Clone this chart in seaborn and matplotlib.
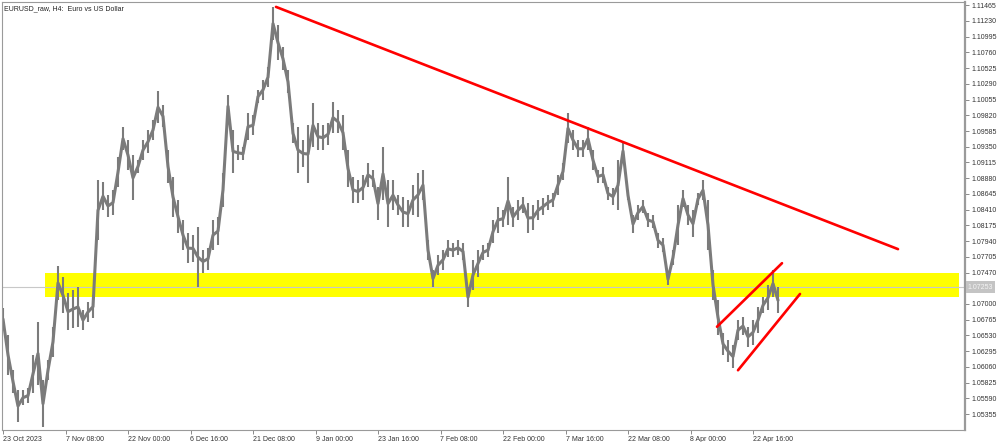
import numpy as np
import pandas as pd
import matplotlib
matplotlib.use("Agg")
import matplotlib.pyplot as plt
import seaborn as sns

# === Data (EURUSD H4, one column every 5 bars) ===
bar_step = 5
highs = [
    1.0694, 1.0654, 1.0601, 1.0571, 1.0571, 1.0574, 1.0624, 1.0673, 1.0586, 1.0616,
    1.0666, 1.0757, 1.0740, 1.0716, 1.0721, 1.0725, 1.0691, 1.0703, 1.0713, 1.0885,
    1.0882, 1.0863, 1.0870, 1.0919, 1.0964, 1.0945, 1.0922, 1.0915, 1.0945, 1.0960,
    1.0975, 1.1018, 1.0997, 1.0930, 1.0890, 1.0855, 1.0825, 1.0806, 1.0803, 1.0815,
    1.0781, 1.0784, 1.0825, 1.0830, 1.0896, 1.1012, 1.0960, 1.0937, 1.0934, 1.0985,
    1.0982, 1.1020, 1.1035, 1.1054, 1.1144, 1.1117, 1.1084, 1.1049, 1.0970, 1.0964,
    1.0945, 1.0967, 1.1000, 1.0970, 1.0967, 1.0970, 1.1002, 1.0990, 1.0982, 1.0930,
    1.0890, 1.0885, 1.0893, 1.0911, 1.0900, 1.0875, 1.0934, 1.0885, 1.0885, 1.0863,
    1.0860, 1.0855, 1.0878, 1.0896, 1.0900, 1.0795, 1.0751, 1.0773, 1.0781, 1.0795,
    1.0791, 1.0795, 1.0791, 1.0725, 1.0766, 1.0781, 1.0788, 1.0791, 1.0825, 1.0845,
    1.0840, 1.0890, 1.0845, 1.0855, 1.0860, 1.0851, 1.0848, 1.0855, 1.0858, 1.0863,
    1.0866, 1.0893, 1.0911, 1.0985, 1.0960, 1.0945, 1.0945, 1.0964, 1.0930, 1.0900,
    1.0905, 1.0875, 1.0873, 1.0915, 1.0942, 1.0870, 1.0833, 1.0848, 1.0855, 1.0836,
    1.0833, 1.0806, 1.0798, 1.0746, 1.0781, 1.0848, 1.0870, 1.0848, 1.0840, 1.0866,
    1.0885, 1.0855, 1.0751, 1.0706, 1.0657, 1.0646, 1.0639, 1.0676, 1.0680, 1.0666,
    1.0676, 1.0695, 1.0710, 1.0728, 1.0751, 1.0725,
]
lows = [
    1.0661, 1.0594, 1.0567, 1.0524, 1.0549, 1.0552, 1.0567, 1.0579, 1.0516, 1.0586,
    1.0621, 1.0706, 1.0686, 1.0661, 1.0664, 1.0666, 1.0661, 1.0673, 1.0679, 1.0795,
    1.0840, 1.0830, 1.0833, 1.0875, 1.0930, 1.0900, 1.0855, 1.0896, 1.0915, 1.0925,
    1.0945, 1.0970, 1.0964, 1.0881, 1.0830, 1.0806, 1.0781, 1.0761, 1.0763, 1.0725,
    1.0746, 1.0751, 1.0781, 1.0788, 1.0845, 1.0979, 1.0896, 1.0915, 1.0915, 1.0945,
    1.0952, 1.1000, 1.1005, 1.1024, 1.1094, 1.1064, 1.1049, 1.1015, 1.0940, 1.0896,
    1.0905, 1.0881, 1.0934, 1.0930, 1.0930, 1.0937, 1.0955, 1.0955, 1.0930, 1.0875,
    1.0851, 1.0851, 1.0855, 1.0875, 1.0875, 1.0825, 1.0855, 1.0815, 1.0840, 1.0833,
    1.0815, 1.0815, 1.0833, 1.0830, 1.0855, 1.0766, 1.0725, 1.0743, 1.0751, 1.0770,
    1.0770, 1.0773, 1.0766, 1.0695, 1.0721, 1.0740, 1.0766, 1.0770, 1.0791, 1.0806,
    1.0815, 1.0818, 1.0815, 1.0825, 1.0836, 1.0806, 1.0810, 1.0825, 1.0833, 1.0840,
    1.0845, 1.0863, 1.0885, 1.0940, 1.0930, 1.0919, 1.0919, 1.0930, 1.0900, 1.0881,
    1.0881, 1.0855, 1.0848, 1.0840, 1.0915, 1.0855, 1.0806, 1.0825, 1.0836, 1.0815,
    1.0813, 1.0784, 1.0778, 1.0728, 1.0758, 1.0788, 1.0845, 1.0818, 1.0800, 1.0848,
    1.0855, 1.0781, 1.0706, 1.0654, 1.0624, 1.0613, 1.0604, 1.0646, 1.0654, 1.0636,
    1.0639, 1.0657, 1.0686, 1.0691, 1.0710, 1.0686,
]

date_labels = ["23 Oct 2023", "7 Nov 08:00", "22 Nov 00:00", "6 Dec 16:00",
               "21 Dec 08:00", "9 Jan 00:00", "23 Jan 16:00", "7 Feb 08:00",
               "22 Feb 00:00", "7 Mar 16:00", "22 Mar 08:00", "8 Apr 00:00",
               "22 Apr 16:00"]
bars_per_label = 62.5

price_top = 1.11465
price_step = 0.00235
n_price_ticks = 27

zone_low, zone_high = 1.0710, 1.0746
zone_start, zone_end = 42, 956
last_price = 1.07253

trend_bars = [273, 895]
trend_prices = [1.1144, 1.0782]
chan_up_bars = [714, 779]
chan_up_prices = [1.0666, 1.0761]
chan_lo_bars = [735, 797]
chan_lo_prices = [1.0601, 1.0715]

df = pd.DataFrame({"high": highs, "low": lows})
df["bar"] = np.arange(len(df)) * bar_step
df["mid"] = (df["high"] + df["low"]) / 2

# === Plot ===
sns.set_theme(style="white")
plt.rcParams["font.family"] = ["Liberation Sans", "DejaVu Sans"]

fig = plt.figure(figsize=(10, 4.42), dpi=100)
ax = fig.add_axes([0.002, 0.027, 0.963, 0.968])
y0, y1 = 1.05116, 1.1151

# support zone + current price line
ax.fill_between([zone_start, zone_end], zone_low, zone_high, color="#ffff00", lw=0, zorder=1)
ax.axhline(last_price, color="#c8c8c8", lw=0.8, zorder=1.5)

# price bars
ax.vlines(df["bar"], df["low"], df["high"], color="#7b7b7b", lw=1.5, zorder=2)
sns.lineplot(data=df, x="bar", y="mid", ax=ax, color="#7b7b7b", lw=2.2, zorder=2)

# trend lines
for bx, py in [(trend_bars, trend_prices), (chan_up_bars, chan_up_prices),
               (chan_lo_bars, chan_lo_prices)]:
    sns.lineplot(x=bx, y=py, ax=ax, color="#ff0000", lw=1.9, zorder=3)

ax.set_xlim(-1, 962)
ax.set_ylim(y0, y1)

# axes styling
for side in ["left", "top", "bottom", "right"]:
    ax.spines[side].set_color("#9a9a9a")
    ax.spines[side].set_linewidth(0.8)
ax.spines["right"].set_linewidth(1.6)

yt = price_top - np.arange(n_price_ticks) * price_step
ylabels = [f"{v:.5f}" for v in yt]
ylabels[18] = ""  # 1.07235 sits under the price label
ax.yaxis.tick_right()
ax.set_yticks(yt)
ax.set_yticklabels(ylabels)
xt = np.arange(len(date_labels)) * bars_per_label
ax.set_xticks(xt)
ax.set_xticklabels(date_labels, ha="left")
ax.tick_params(axis="both", which="both", length=3, width=0.6, color="#777777",
               labelsize=5, labelcolor="#333333", pad=1.5)
ax.tick_params(axis="y", right=True, left=False)
ax.tick_params(axis="x", bottom=True)
ax.set_xlabel("")
ax.set_ylabel("")

ax.text(1.003, (last_price - y0) / (y1 - y0), f"{last_price:.5f}",
        transform=ax.transAxes, fontsize=5, color="#f4f4f4", va="center", ha="left",
        bbox=dict(boxstyle="square,pad=0.3", fc="#c4c4c4", ec="none"), clip_on=False)

fig.text(0.004, 0.988, "EURUSD_raw, H4:  Euro vs US Dollar", fontsize=5,
         color="#222222", va="top", ha="left")

fig.savefig("out.png", dpi=100, facecolor="white")
